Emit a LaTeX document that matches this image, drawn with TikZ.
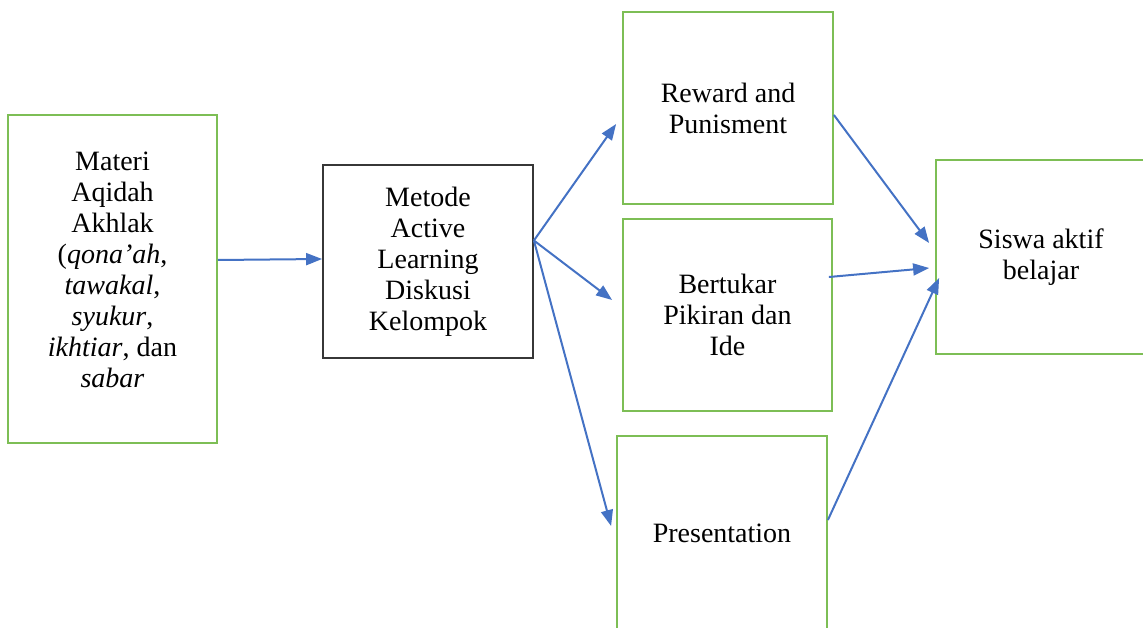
\documentclass[tikz,border=0pt]{standalone}
\usepackage{fontspec}
\setmainfont{Liberation Serif}
\usetikzlibrary{arrows.meta,calc}
\definecolor{boxgreen}{RGB}{125,190,85}
\definecolor{arrowblue}{RGB}{68,114,196}
\definecolor{boxdark}{RGB}{55,55,55}
\tikzset{
  gbox/.style={draw=boxgreen,line width=1.8pt,fill=white,inner sep=0pt,align=center,
    font=\fontsize{28}{31}\selectfont},
  dbox/.style={draw=boxdark,line width=1.8pt,fill=white,inner sep=0pt,align=center,
    font=\fontsize{28}{31}\selectfont},
  txt/.style={align=center,inner sep=0pt,font=\fontsize{28}{31}\selectfont},
  conn/.style={draw=arrowblue,line width=2pt,-{Triangle[length=16pt,width=12pt]}}
}
\begin{document}
\begin{tikzpicture}[x=1pt,y=-1pt]
\useasboundingbox (0,0) rectangle (1143,628);
\clip (0,0) rectangle (1143,628);
\node[gbox,minimum width=209pt,minimum height=328pt] (materi) at (112.5,279) {};
\node[txt] (materitxt) at (112.5,270) {Materi\\Aqidah\\Akhlak\\(\textit{qona'ah},\\\textit{tawakal},\\\textit{syukur},\\\textit{ikhtiar}, dan\\\textit{sabar}};
\node[dbox,minimum width=210pt,minimum height=193pt] (metode) at (428,261.5) {Metode\\Active\\Learning\\Diskusi\\Kelompok};
\node[gbox,minimum width=210pt,minimum height=192pt] (reward) at (728,108) {Reward and\\Punisment};
\node[gbox,minimum width=209pt,minimum height=192pt] (tukar) at (727.5,315) {Bertukar\\Pikiran dan\\Ide};
\node[gbox,minimum width=210pt,minimum height=194pt] (pres) at (722,533) {Presentation};
\node[gbox,minimum width=210pt,minimum height=194pt] (siswa) at (1041,257) {Siswa aktif\\belajar};
\draw[conn] ([yshift=19pt]materi.east) -- ([yshift=2.5pt]metode.west);
\draw[conn] ([yshift=21pt]metode.east) -- ([xshift=-6pt,yshift=-16pt]reward.west);
\draw[conn] ([yshift=21pt]metode.east) -- ([xshift=-10pt,yshift=15pt]tukar.west);
\draw[conn] ([yshift=21pt]metode.east) -- ([xshift=-5pt,yshift=7pt]pres.west);
\draw[conn] ([yshift=-7pt]reward.east) -- ([xshift=-6pt,yshift=14pt]siswa.west);
\draw[conn] ([xshift=-4pt,yshift=38pt]tukar.east) -- ([xshift=-6pt,yshift=-11pt]siswa.west);
\draw[conn] ([yshift=13pt]pres.east) -- ([xshift=4pt,yshift=-21pt]siswa.west);
\end{tikzpicture}
\end{document}
